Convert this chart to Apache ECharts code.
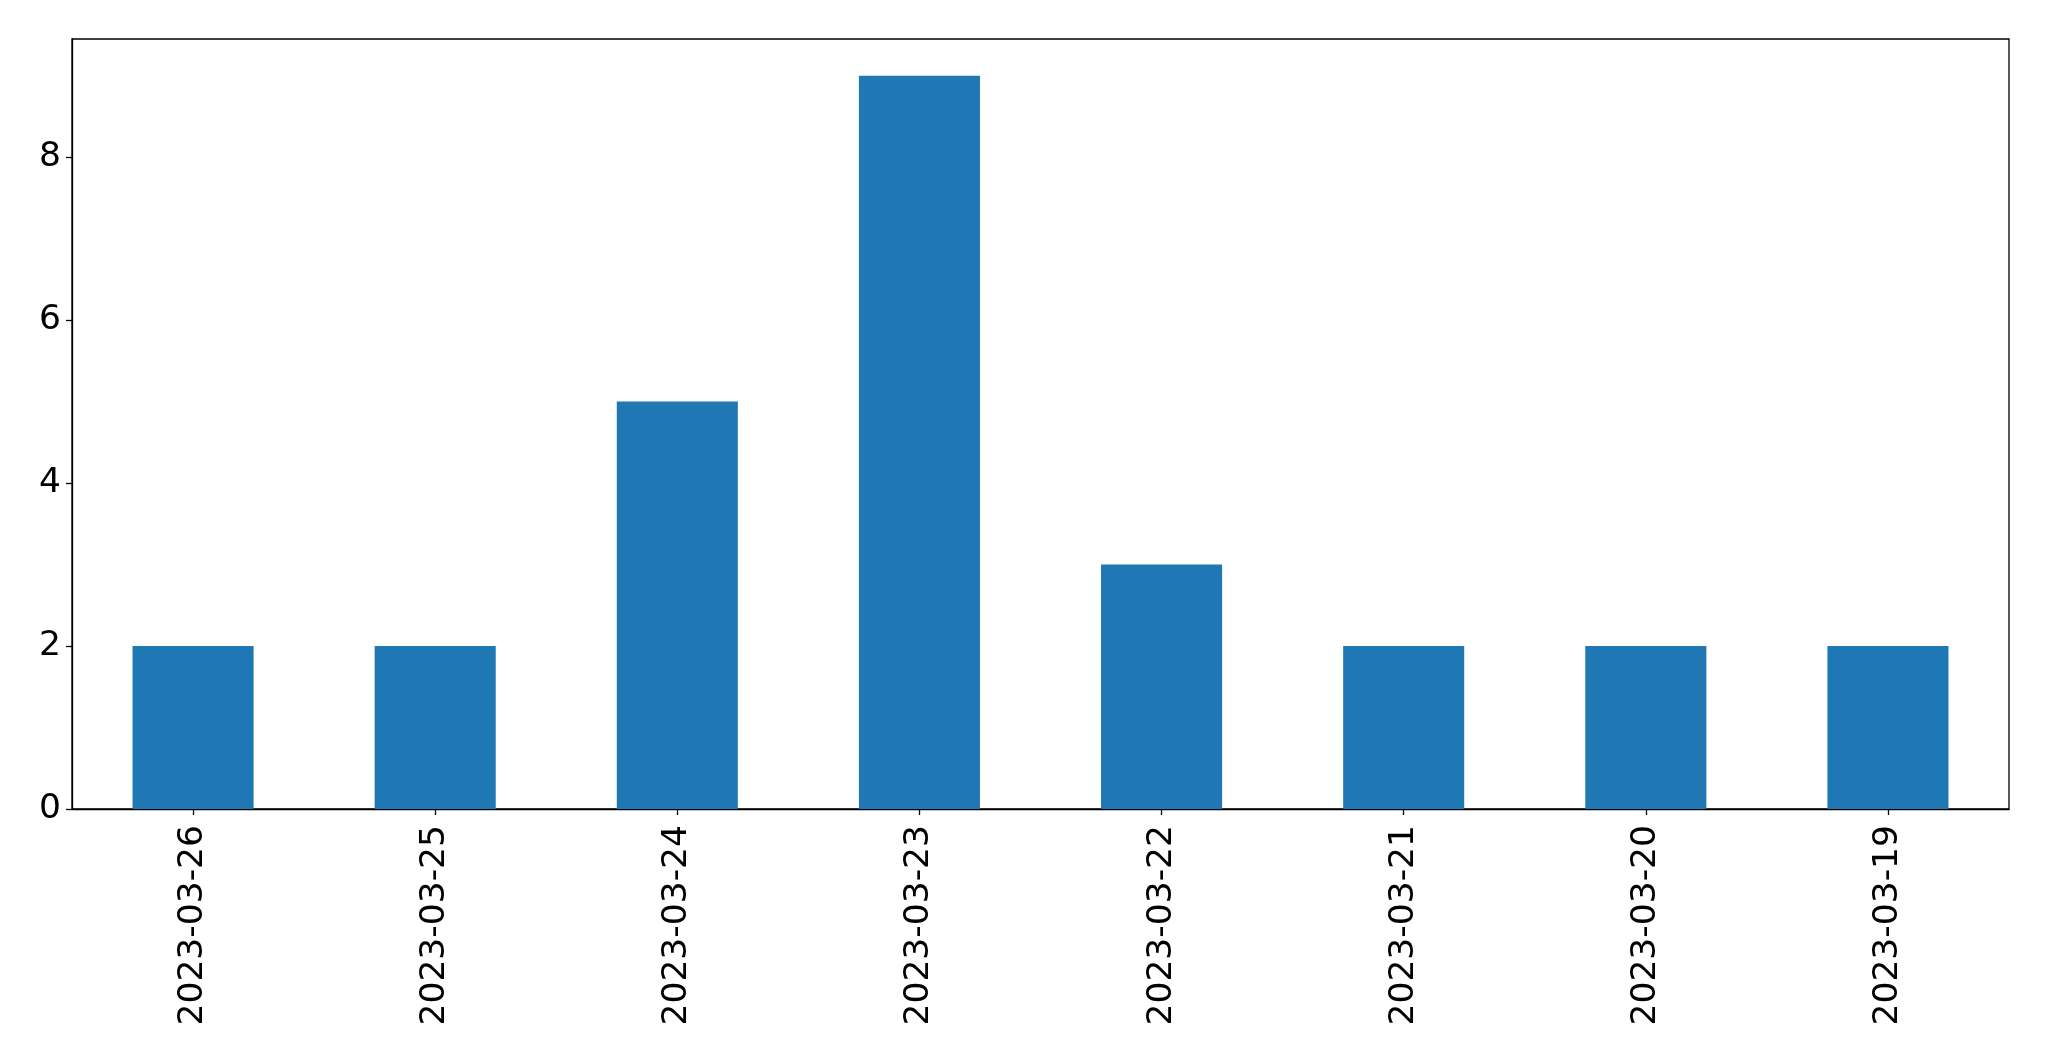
<!DOCTYPE html>
<html>
<head>
<meta charset="utf-8">
<script src="https://cdn.jsdelivr.net/npm/echarts@6/dist/echarts.min.js"></script>
<style>html,body{margin:0;padding:0;background:#fff;}#c{width:2049px;height:1061px;}</style>
</head>
<body>
<div id="c"></div>
<script>
const categories = ["2023-03-26","2023-03-25","2023-03-24","2023-03-23","2023-03-22","2023-03-21","2023-03-20","2023-03-19"];
const counts = [2, 2, 5, 9, 3, 2, 2, 2];
const yTicks = [0, 2, 4, 6, 8];

const chart = echarts.init(document.getElementById('c'), null, {renderer: 'canvas'});
const font = 'DejaVu Sans';
chart.setOption({
  animation: false,
  backgroundColor: '#ffffff',
  grid: {left: 72, right: 40, top: 39, bottom: 252, show: true, borderColor: '#000', borderWidth: 1.3, backgroundColor: 'transparent'},
  xAxis: {
    type: 'category',
    data: categories,
    axisLine: {show: true, lineStyle: {color: '#000', width: 1.3}},
    axisTick: {show: true, alignWithLabel: true, length: 6, lineStyle: {color: '#000', width: 1.3}},
    axisLabel: {rotate: 90, margin: 16, color: '#000', fontFamily: font, fontSize: 34.5, interval: 0},
    splitLine: {show: false}
  },
  yAxis: {
    type: 'value',
    min: 0, max: 9.45, interval: 2,
    axisLine: {show: true, lineStyle: {color: '#000', width: 1.3}},
    axisTick: {show: true, length: 6, customValues: yTicks, lineStyle: {color: '#000', width: 1.3}},
    axisLabel: {margin: 11, color: '#000', fontFamily: font, fontSize: 34.5, customValues: yTicks,
      formatter: v => String(v)},
    splitLine: {show: false}
  },
  series: [{
    type: 'bar',
    data: counts,
    barWidth: '50%',
    itemStyle: {color: '#1f77b4'}
  }]
});
</script>
</body>
</html>
